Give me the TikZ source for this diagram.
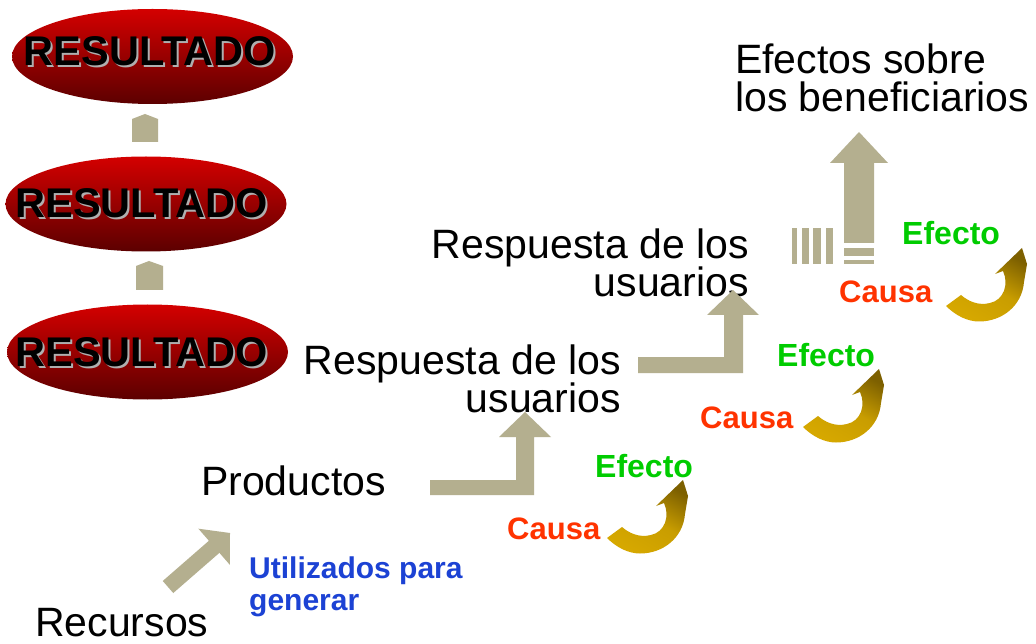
\documentclass[tikz,border=0pt]{standalone}
\usepackage{fontspec}
\setmainfont{Liberation Sans}
\usetikzlibrary{shapes.geometric,calc}
\definecolor{mytan}{RGB}{180,175,143}
\definecolor{resTop}{RGB}{212,0,0}
\definecolor{resBot}{RGB}{92,0,0}
\definecolor{shadowgray}{RGB}{175,175,175}
\definecolor{effgreen}{RGB}{0,204,0}
\definecolor{caured}{RGB}{255,51,0}
\definecolor{ublue}{RGB}{28,66,212}
\definecolor{goldA}{RGB}{214,168,0}
\definecolor{goldB}{RGB}{125,96,0}
\newcommand\mycurvedarrow[1]{%
  \begin{scope}[shift={#1}]
    \shade[top color=goldB, bottom color=goldA, middle color=goldA!85!goldB, shading angle=-30]
      (0,0) .. controls (10,10) and (22,15.5) .. (33,15.5)
      .. controls (56,15.5) and (76,0) .. (78,-24)
      -- (81,-42) -- (76,-58) -- (49,-32) -- (57,-35)
      .. controls (63,-22) and (58,-6) .. (44,-3)
      .. controls (32,0) and (22,-5) .. (15,-11) -- cycle;
  \end{scope}}
\begin{document}
\begin{tikzpicture}[x=1pt,y=-1pt,
  lbl/.style={inner sep=0pt, font=\fontsize{41}{41}\selectfont},
  eff/.style={inner sep=0pt, font=\fontsize{32}{32}\selectfont\bfseries, text=effgreen},
  cau/.style={inner sep=0pt, font=\fontsize{31}{31}\selectfont\bfseries, text=caured},
  util/.style={inner sep=0pt, font=\fontsize{30}{30}\selectfont\bfseries, text=ublue},
  res/.style={ellipse, minimum width=281pt, minimum height=95pt, inner sep=0pt,
    top color=resTop, bottom color=resBot, draw=none},
  restext/.style={inner sep=0pt, font=\fontsize{41.5}{41.5}\selectfont\bfseries},
  blk/.style={fill=mytan, draw=none}
]
\fill[white] (0,0) rectangle (1036,644);
\useasboundingbox (0,0) rectangle (1036,644);

% RESULTADO ellipses
\node[res] (res1) at (152.5,56.5) {};
\node[res] (res2) at (146,204) {};
\node[res] (res3) at (147.5,352) {};
\node[restext, text=shadowgray, anchor=base] at (152,68) {RESULTADO};
\node[restext, anchor=base] (r1t) at (150,66) {RESULTADO};
\node[restext, text=shadowgray, anchor=base] at (143.5,220) {RESULTADO};
\node[restext, anchor=base] (r2t) at (141.5,218) {RESULTADO};
\node[restext, text=shadowgray, anchor=base] at (143.5,368) {RESULTADO};
\node[restext, anchor=base] (r3t) at (141.5,366) {RESULTADO};

% small arrows between ellipses
\fill[blk] (132,142) -- (132,119) -- (145,114) -- (158,119) -- (158,142) -- cycle;
\fill[blk] (136,290) -- (136,266) -- (149,261) -- (163,266) -- (163,290) -- cycle;

% texts
\node[lbl, anchor=base west] (ef1) at (735,74) {Efectos sobre};
\node[lbl, anchor=base west] (ef2) at (735,112) {los beneficiarios};
\node[lbl, anchor=base east] (ru1) at (749,259) {Respuesta de los};
\node[lbl, anchor=base east] (ru2) at (749,297) {usuarios};
\node[lbl, anchor=base east] (rl1) at (621,374) {Respuesta de los};
\node[lbl, anchor=base east] (rl2) at (621,412) {usuarios};
\node[lbl, anchor=base west] (prod) at (201,495) {Productos};
\node[lbl, anchor=base west] (rec) at (35,636) {Recursos};
\node[util, anchor=base west] (ut1) at (249,578) {Utilizados para};
\node[util, anchor=base west] (ut2) at (249,610) {generar};

\node[eff, anchor=base west] (e1) at (595,477) {Efecto};
\node[eff, anchor=base west] (e2) at (777,366) {Efecto};
\node[eff, anchor=base west] (e3) at (902,245) {Efecto};
\node[cau, anchor=base west] (c1) at (507,539) {Causa};
\node[cau, anchor=base west] (c2) at (700,428) {Causa};
\node[cau, anchor=base west] (c3) at (839,303) {Causa};

% diagonal arrow Recursos -> Productos
\coordinate (ra) at (168,587);
\coordinate (rb) at (230,533);
\coordinate (rm) at ($(rb)!21pt!(ra)$);
\fill[blk] ($(ra)!8pt!90:(rb)$) -- ($(rm)!8pt!90:(rb)$) -- ($(rm)!24pt!90:(rb)$)
  -- (rb) -- ($(rm)!24pt!-90:(rb)$) -- ($(rm)!8pt!-90:(rb)$) -- ($(ra)!8pt!-90:(rb)$) -- cycle;

% L-shaped arrows
\fill[blk] (430,480) -- (516,480) -- (516,437) -- (499,437) -- (525,412) -- (551,437)
  -- (534,437) -- (534,495) -- (430,495) -- cycle;
\fill[blk] (638,357) -- (724,357) -- (724,315) -- (707,315) -- (733,290) -- (759,315)
  -- (743,315) -- (743,373) -- (638,373) -- cycle;

% big up arrow with stripes
\fill[blk] (844,243) -- (844,163) -- (830,163) -- (859,132) -- (888,163) -- (874,163)
  -- (874,243) -- cycle;
\fill[blk] (844,248) rectangle (874,256);
\fill[blk] (844,260) rectangle (874,264);
\fill[blk] (792,228) rectangle (797,264);
\fill[blk] (802,228) rectangle (809,264);
\fill[blk] (813,228) rectangle (821,264);
\fill[blk] (826,228) rectangle (833,264);

% curved cause-effect arrows
\mycurvedarrow{(607,538)}
\mycurvedarrow{(803,427)}
\mycurvedarrow{(946,306)}
\end{tikzpicture}
\end{document}
